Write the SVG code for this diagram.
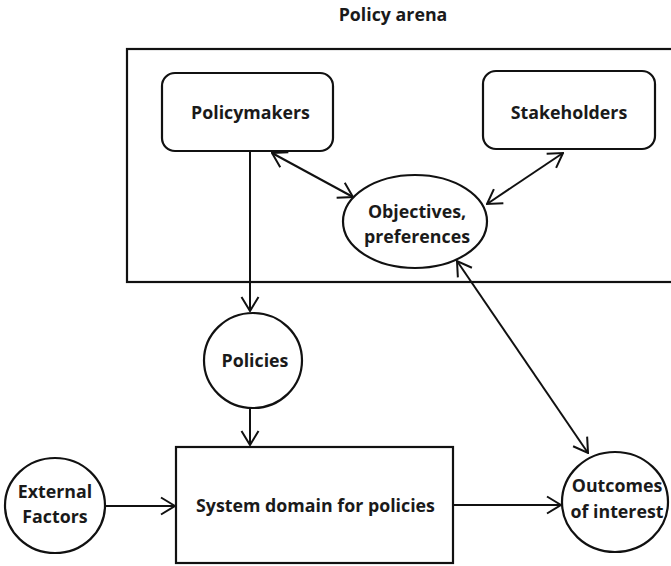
<svg xmlns="http://www.w3.org/2000/svg" width="671" height="566" viewBox="0 0 671 566">
<defs>
<style>
.s{fill:#fff;stroke:#111;stroke-width:2.2}
.c{fill:none;stroke:#111;stroke-width:2}
text{font-family:"Open Sans","Liberation Sans",sans-serif;font-weight:bold;font-size:17.8px;fill:#1a1a1a;text-anchor:middle}
</style>
<marker id="a" viewBox="0 0 16 20" refX="15" refY="10" markerWidth="16" markerHeight="20" markerUnits="userSpaceOnUse" orient="auto-start-reverse">
<path d="M1,1.5 L15,10 L1,18.5" fill="none" stroke="#111" stroke-width="2"/>
</marker>
</defs>
<rect width="671" height="566" fill="#fff"/>
<text x="393" y="21">Policy arena</text>
<g id="arena"><rect class="s" x="127" y="49" width="550" height="233" style="fill:none"/></g>
<g id="policymakers"><rect class="s" x="162" y="73" width="171" height="78" rx="13"/><text x="250.5" y="119">Policymakers</text></g>
<g id="stakeholders"><rect class="s" x="483" y="71" width="172" height="78" rx="13"/><text x="569" y="119">Stakeholders</text></g>
<g id="objectives"><ellipse class="s" cx="415" cy="221.5" rx="72" ry="46.5"/><text x="417" y="218">Objectives,</text><text x="417" y="243">preferences</text></g>
<g id="policies"><ellipse class="s" cx="253" cy="360.5" rx="49" ry="47.5"/><text x="255" y="367">Policies</text></g>
<g id="system"><rect class="s" x="176" y="447" width="277" height="116"/><text x="315.5" y="512">System domain for policies</text></g>
<g id="external"><ellipse class="s" cx="55" cy="505.5" rx="50" ry="47.5"/><text x="55" y="498">External</text><text x="55" y="523">Factors</text></g>
<g id="outcomes"><ellipse class="s" cx="615" cy="502" rx="53" ry="50"/><text x="617" y="492">Outcomes</text><text x="617" y="518">of interest</text></g>
<g id="connectors">
<path class="c" d="M250,151 L250,311" marker-end="url(#a)"/>
<path class="c" d="M250,408 L250,445" marker-end="url(#a)"/>
<path class="c" d="M105,506 L175,506" marker-end="url(#a)"/>
<path class="c" d="M453,505 L561,505" marker-end="url(#a)"/>
<path class="c" d="M272,153 L353,197" marker-start="url(#a)" marker-end="url(#a)"/>
<path class="c" d="M563,153 L487,204" marker-start="url(#a)" marker-end="url(#a)"/>
<path class="c" d="M457,261 L588,453" marker-start="url(#a)" marker-end="url(#a)"/>
</g>
</svg>
